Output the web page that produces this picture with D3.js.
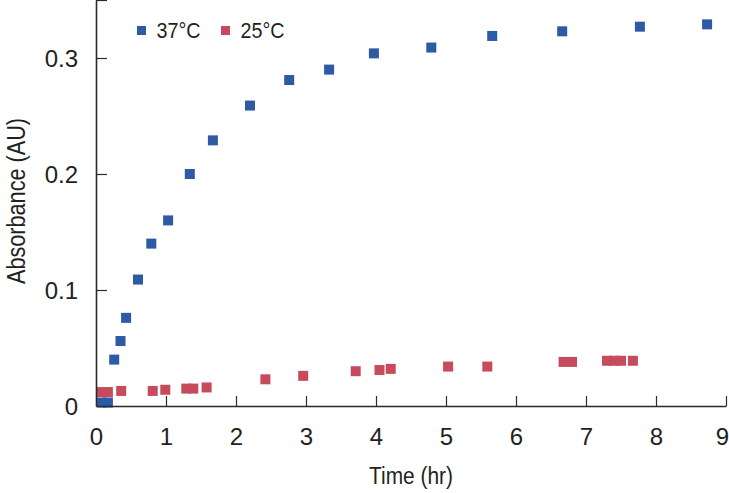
<!DOCTYPE html>
<html><head><meta charset="utf-8">
<script src="https://cdn.jsdelivr.net/npm/d3@7"></script>
<style>
body{margin:0;background:#fff;}
text{font-family:"Liberation Sans",Arial,sans-serif;fill:#231f20;}
</style></head>
<body><svg id="c" width="729" height="493"></svg>
<script>
const seriesNames = ["37°C", "25°C"];
const seriesColors = ["#2c5aa5", "#c64b5c"];
const time37 = [0.08, 0.17, 0.26, 0.35, 0.43, 0.6, 0.79, 1.03, 1.34, 1.67, 2.2, 2.76, 3.33, 3.97, 4.79, 5.66, 6.66, 7.77, 8.73];
const abs37  = [0.003, 0.003, 0.040, 0.056, 0.076, 0.109, 0.140, 0.160, 0.200, 0.229, 0.259, 0.281, 0.290, 0.304, 0.309, 0.319, 0.323, 0.327, 0.329];
const time25 = [0.08, 0.17, 0.36, 0.81, 0.99, 1.29, 1.39, 1.58, 2.42, 2.96, 3.71, 4.05, 4.21, 5.03, 5.59, 6.68, 6.8, 7.3, 7.4, 7.5, 7.67];
const abs25  = [0.012, 0.012, 0.013, 0.013, 0.014, 0.015, 0.015, 0.016, 0.023, 0.026, 0.030, 0.031, 0.032, 0.034, 0.034, 0.038, 0.038, 0.039, 0.039, 0.039, 0.039];
const xTicks = [0,1,2,3,4,5,6,7,8,9];
const yTicks = [0,0.1,0.2,0.3];
const xLabel = "Time (hr)";
const yLabel = "Absorbance (AU)";

const svg = d3.select("#c");
const m = {l:96, r:3, t:0, b:87};
const W = 729, H = 493;
const x = d3.scaleLinear().domain([0,9]).range([m.l, W-m.r]);
const y = d3.scaleLinear().domain([0,0.35]).range([H-m.b, m.t]);
const axisColor = "#2b2b2b";
const FONT = "Liberation Sans, Arial, sans-serif";

// points
const series = [
  {name:seriesNames[0], color:seriesColors[0], t:time37, v:abs37},
  {name:seriesNames[1], color:seriesColors[1], t:time25, v:abs25}
];
const S = 10;
series.forEach(s=>{
  svg.append("g").selectAll("rect").data(s.t.map((t,i)=>[t,s.v[i]])).join("rect")
    .attr("x", d=>x(d[0])-S/2).attr("y", d=>y(d[1])-S/2)
    .attr("width", S).attr("height", S).attr("fill", s.color);
});

// x axis
const gx = svg.append("g").attr("transform",`translate(0,${y(0)})`)
  .call(d3.axisBottom(x).tickValues(xTicks).tickFormat(d3.format("d")).tickSizeInner(-10).tickSizeOuter(0).tickPadding(22));
gx.select(".domain").attr("stroke",axisColor).attr("stroke-width",1.6);
gx.selectAll(".tick line").attr("stroke",axisColor).attr("stroke-width",1.2);
gx.selectAll(".tick text").attr("font-size",24).attr("font-family",FONT).attr("fill","#231f20");
gx.selectAll(".tick").filter(d=>d===9).select("text").attr("dx",-4);
gx.selectAll(".tick").filter(d=>d===0).select("line").remove();

// y axis
const gy = svg.append("g").attr("transform",`translate(${x(0)},0)`)
  .call(d3.axisLeft(y).tickValues(yTicks.concat([0.35])).tickFormat(d=> d===0 ? "0" : d3.format(".1f")(d)).tickSizeInner(-11).tickSizeOuter(0).tickPadding(18));
gy.select(".domain").attr("stroke",axisColor).attr("stroke-width",1.6);
gy.selectAll(".tick line").attr("stroke",axisColor).attr("stroke-width",1.2);
gy.selectAll(".tick text").attr("font-size",24).attr("font-family",FONT).attr("fill","#231f20").attr("dy","0.36em");
gy.selectAll(".tick").filter(d=>d===0.35).select("text").remove();
gy.selectAll(".tick").filter(d=>d===0).select("line").remove();

// labels
svg.append("text").attr("x",(x(0)+x(9))/2).attr("y",484).attr("text-anchor","middle")
  .attr("font-size",23).attr("textLength",84).attr("lengthAdjust","spacingAndGlyphs").text(xLabel);
svg.append("text").attr("transform",`translate(25,${(y(0)+y(0.35))/2-2}) rotate(-90)`).attr("text-anchor","middle")
  .attr("font-size",25).attr("textLength",166).attr("lengthAdjust","spacingAndGlyphs").text(yLabel);

// legend
const lg = svg.append("g");
const legX = [141.5, 225.5];
series.forEach((s,i)=>{
  lg.append("rect").attr("x",legX[i]-4.5).attr("y",26).attr("width",9).attr("height",9).attr("fill",s.color);
  lg.append("text").attr("x",legX[i]+15).attr("y",38).attr("font-size",22)
    .attr("textLength",44).attr("lengthAdjust","spacingAndGlyphs").text(s.name);
});
</script></body></html>
